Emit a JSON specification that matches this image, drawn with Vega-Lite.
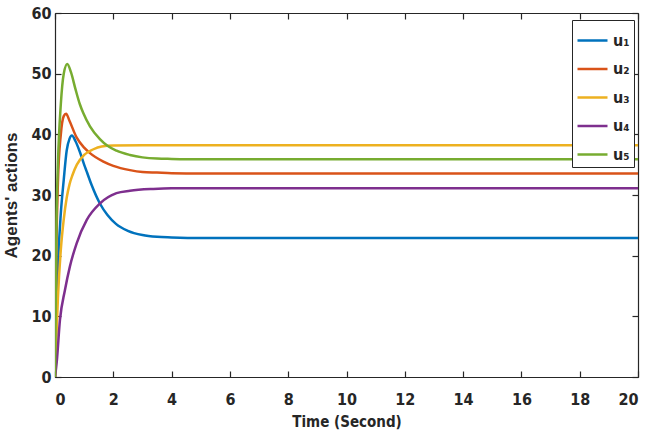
{
  "$schema": "https://vega.github.io/schema/vega-lite/v6.json",
  "width": 583,
  "height": 364,
  "autosize": "none",
  "padding": {"left": 55, "top": 13, "right": 7, "bottom": 64},
  "background": "white",
  "config": {
    "view": {"stroke": null},
    "axis": {
      "grid": false,
      "domainColor": "#262626",
      "tickColor": "#262626",
      "labelColor": "#262626",
      "titleColor": "#262626",
      "labelFont": "DejaVu Sans Condensed",
      "titleFont": "DejaVu Sans Condensed",
      "labelFontWeight": "bold",
      "titleFontWeight": "bold",
      "labelFontSize": 16,
      "titleFontSize": 15,
      "tickSize": -6,
      "domainWidth": 1.2,
      "tickWidth": 1.2
    }
  },
  "data": {
    "values": [
      {"s": "u₁", "t": 0, "v": 0}, {"s": "u₁", "t": 0.05, "v": 10}, {"s": "u₁", "t": 0.1, "v": 18}, {"s": "u₁", "t": 0.2, "v": 27}, {"s": "u₁", "t": 0.3, "v": 32.5}, {"s": "u₁", "t": 0.4, "v": 37.3}, {"s": "u₁", "t": 0.5, "v": 39.3}, {"s": "u₁", "t": 0.58, "v": 39.8}, {"s": "u₁", "t": 0.7, "v": 38.9}, {"s": "u₁", "t": 0.86, "v": 37}, {"s": "u₁", "t": 1.0, "v": 35}, {"s": "u₁", "t": 1.1, "v": 33.7}, {"s": "u₁", "t": 1.26, "v": 31.6}, {"s": "u₁", "t": 1.54, "v": 28.6}, {"s": "u₁", "t": 1.8, "v": 26.7}, {"s": "u₁", "t": 2.1, "v": 25.2}, {"s": "u₁", "t": 2.5, "v": 24.1}, {"s": "u₁", "t": 3.0, "v": 23.4}, {"s": "u₁", "t": 3.5, "v": 23.1}, {"s": "u₁", "t": 4, "v": 23.0}, {"s": "u₁", "t": 5, "v": 22.9}, {"s": "u₁", "t": 20, "v": 22.9},
      {"s": "u₂", "t": 0, "v": 0}, {"s": "u₂", "t": 0.05, "v": 22}, {"s": "u₂", "t": 0.1, "v": 32}, {"s": "u₂", "t": 0.2, "v": 40}, {"s": "u₂", "t": 0.3, "v": 43}, {"s": "u₂", "t": 0.38, "v": 43.4}, {"s": "u₂", "t": 0.5, "v": 42.2}, {"s": "u₂", "t": 0.74, "v": 39.5}, {"s": "u₂", "t": 1.0, "v": 37.8}, {"s": "u₂", "t": 1.2, "v": 36.9}, {"s": "u₂", "t": 1.66, "v": 35.5}, {"s": "u₂", "t": 2.0, "v": 34.8}, {"s": "u₂", "t": 2.57, "v": 34.1}, {"s": "u₂", "t": 3, "v": 33.8}, {"s": "u₂", "t": 3.5, "v": 33.7}, {"s": "u₂", "t": 4, "v": 33.6}, {"s": "u₂", "t": 5, "v": 33.55}, {"s": "u₂", "t": 20, "v": 33.55},
      {"s": "u₃", "t": 0, "v": 0}, {"s": "u₃", "t": 0.05, "v": 7}, {"s": "u₃", "t": 0.1, "v": 13}, {"s": "u₃", "t": 0.2, "v": 21}, {"s": "u₃", "t": 0.3, "v": 26}, {"s": "u₃", "t": 0.4, "v": 29.5}, {"s": "u₃", "t": 0.5, "v": 31.8}, {"s": "u₃", "t": 0.6, "v": 33.3}, {"s": "u₃", "t": 0.75, "v": 35}, {"s": "u₃", "t": 1.0, "v": 36.6}, {"s": "u₃", "t": 1.3, "v": 37.5}, {"s": "u₃", "t": 1.6, "v": 38}, {"s": "u₃", "t": 2, "v": 38.15}, {"s": "u₃", "t": 3, "v": 38.2}, {"s": "u₃", "t": 20, "v": 38.2},
      {"s": "u₄", "t": 0, "v": 0}, {"s": "u₄", "t": 0.06, "v": 2.5}, {"s": "u₄", "t": 0.17, "v": 9.4}, {"s": "u₄", "t": 0.34, "v": 14.3}, {"s": "u₄", "t": 0.51, "v": 18.2}, {"s": "u₄", "t": 0.74, "v": 22}, {"s": "u₄", "t": 1.09, "v": 25.9}, {"s": "u₄", "t": 1.54, "v": 28.6}, {"s": "u₄", "t": 2.11, "v": 30.3}, {"s": "u₄", "t": 2.57, "v": 30.7}, {"s": "u₄", "t": 3.37, "v": 31.0}, {"s": "u₄", "t": 4, "v": 31.1}, {"s": "u₄", "t": 5, "v": 31.1}, {"s": "u₄", "t": 20, "v": 31.1},
      {"s": "u₅", "t": 0, "v": 0}, {"s": "u₅", "t": 0.05, "v": 25}, {"s": "u₅", "t": 0.1, "v": 35}, {"s": "u₅", "t": 0.2, "v": 45}, {"s": "u₅", "t": 0.3, "v": 50}, {"s": "u₅", "t": 0.42, "v": 51.6}, {"s": "u₅", "t": 0.55, "v": 50.2}, {"s": "u₅", "t": 0.7, "v": 47.5}, {"s": "u₅", "t": 0.85, "v": 45}, {"s": "u₅", "t": 0.97, "v": 43.5}, {"s": "u₅", "t": 1.2, "v": 41.3}, {"s": "u₅", "t": 1.54, "v": 39.2}, {"s": "u₅", "t": 1.8, "v": 38.1}, {"s": "u₅", "t": 2.11, "v": 37.3}, {"s": "u₅", "t": 2.57, "v": 36.6}, {"s": "u₅", "t": 3, "v": 36.2}, {"s": "u₅", "t": 3.5, "v": 36.0}, {"s": "u₅", "t": 4, "v": 35.95}, {"s": "u₅", "t": 5, "v": 35.9}, {"s": "u₅", "t": 20, "v": 35.9}
    ]
  },
  "layer": [
    {
      "mark": {"type": "line", "strokeWidth": 2.5, "interpolate": "monotone", "clip": true},
      "encoding": {
        "x": {"field": "t", "type": "quantitative", "scale": {"domain": [0, 20], "nice": false},
              "axis": {"values": [0,2,4,6,8,10,12,14,16,18,20], "title": "Time (Second)", "labelPadding": 20, "titlePadding": 7}},
        "y": {"field": "v", "type": "quantitative", "scale": {"domain": [0, 60], "nice": false},
              "axis": {"values": [0,10,20,30,40,50,60], "title": "Agents' actions", "labelPadding": 10, "titlePadding": 10, "titleFont": "Liberation Sans", "titleFontSize": 17}},
        "color": {"field": "s", "type": "nominal",
          "scale": {"domain": ["u₁","u₂","u₃","u₄","u₅"], "range": ["#0072BD","#D95319","#EDB120","#7E2F8E","#77AC30"]},
          "legend": {"title": null, "orient": "none", "legendX": 517, "legendY": 7,
            "symbolType": "stroke", "symbolSize": 900, "symbolStrokeWidth": 2.5,
            "labelFont": "DejaVu Sans Condensed", "labelFontSize": 16, "labelFontWeight": "bold", "labelColor": "#262626",
            "strokeColor": "#262626", "fillColor": "white", "padding": 4, "rowPadding": 3.5, "labelOffset": 4}}
      }
    },
    {
      "mark": {"type": "rule", "opacity": 0},
      "encoding": {
        "x": {"datum": 0, "type": "quantitative", "axis": {"orient": "top", "values": [0,2,4,6,8,10,12,14,16,18,20], "labels": false, "title": null}},
        "y": {"datum": 0, "type": "quantitative", "axis": {"orient": "right", "values": [0,10,20,30,40,50,60], "labels": false, "title": null}}
      }
    }
  ],
  "resolve": {"axis": {"x": "independent", "y": "independent"}}
}
